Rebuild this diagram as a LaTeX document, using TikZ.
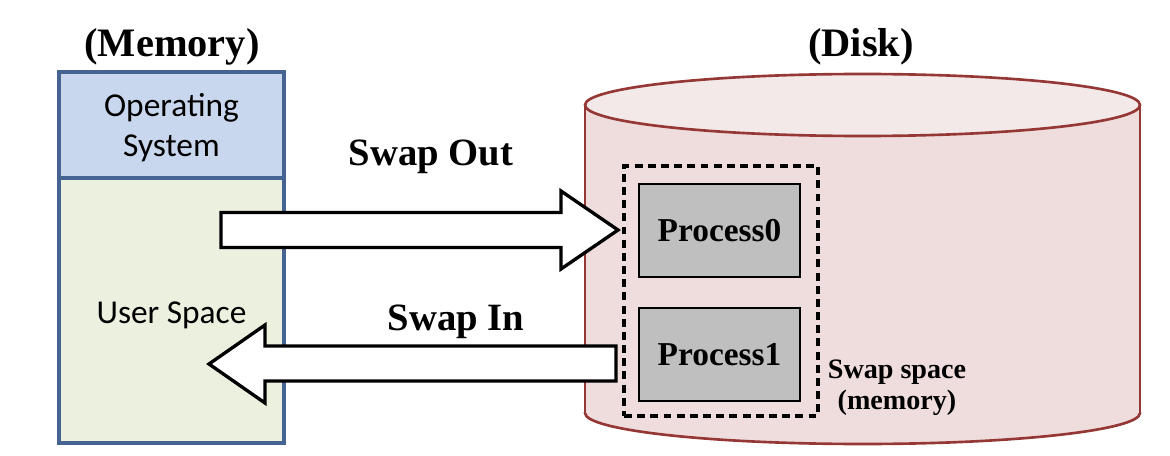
\documentclass[tikz,border=0pt]{standalone}
\usepackage{fontspec}
\setmainfont{Liberation Serif}
\newfontfamily\calibri{Carlito}

\definecolor{osblue}{RGB}{200,215,237}
\definecolor{usergreen}{RGB}{235,240,223}
\definecolor{memline}{RGB}{70,100,145}
\definecolor{disktop}{RGB}{243,233,233}
\definecolor{diskside}{RGB}{239,220,220}
\definecolor{diskline}{RGB}{149,55,53}
\definecolor{procgray}{RGB}{191,191,191}

\tikzset{
  membox/.style={draw=memline, line width=2pt, minimum width=4.5cm, align=center,
    text depth=0pt, font=\calibri\fontsize{19}{23}\selectfont},
  procbox/.style={draw=black, fill=procgray, line width=1.5pt, minimum width=3.22cm,
    minimum height=1.86cm, font=\bfseries\fontsize{19}{22}\selectfont},
  blockarrow/.style={draw=black, fill=white, line width=1.9pt, line join=miter},
  title/.style={font=\bfseries\fontsize{23}{27}\selectfont},
  label/.style={font=\bfseries\fontsize{22}{26}\selectfont},
}

\begin{document}
\begin{tikzpicture}[x=0.02cm, y=-0.02cm]
        \useasboundingbox (0,0) rectangle (1170,456);
        \def\dl{585}
        \def\dr{1140}
        \def\dtop{105}
        \def\dbot{413}
        \def\rx{277.5}
        \def\ry{31}

        % disk
        \filldraw[diskline, fill=diskside, line width=1.5pt] (862.5,\dbot) ellipse [x radius=\rx, y radius=\ry];
        \fill[diskside] (\dl,\dtop) rectangle (\dr,\dbot);
        \draw[diskline, line width=1.5pt] (\dl,\dtop) -- (\dl,\dbot) (\dr,\dtop) -- (\dr,\dbot);
        \filldraw[diskline, fill=disktop, line width=1.5pt] (862.5,\dtop) coordinate (disk) ellipse [x radius=\rx, y radius=\ry];
        \node[title] (disktitle) at (861,47) {(Disk)};

        \node[draw, line width=1.8pt, dash pattern=on 4.5pt off 3pt, minimum width=3.88cm, minimum height=5cm] (swap) at (721,291) {};
        \node[procbox] (proc0) at (719.5,230.5) {Process0};
        \node[procbox] (proc1) at (719.5,354.5) {Process1};
        \node[align=center, font=\bfseries\fontsize{16}{17.6}\selectfont] (swaplabel) at (897,388) {Swap space\\(memory)};

        % memory
        \node[title] (memtitle) at (172,47) {(Memory)};
        \node[membox, fill=osblue, minimum height=2.12cm, text depth=-3.5pt] (os) at (171.5,125) {Operating\\System};
        \node[membox, fill=usergreen, minimum height=5.3cm, text height=15pt] (user) at (171.5,310.5) {User Space};

        % swap arrows
        \draw[blockarrow] (221,212.5) -- (561,212.5) -- (561,191) -- (618,230) -- (561,269) -- (561,247.5) -- (221,247.5) -- cycle;
        \draw[blockarrow] (616,346) -- (265,346) -- (265,325) -- (209,364) -- (265,403) -- (265,381) -- (616,381) -- cycle;
        \node[label] (outlabel) at (431,157) {Swap Out};
        \node[label] (inlabel) at (456,322) {Swap In};
    \end{tikzpicture}
\end{document}
